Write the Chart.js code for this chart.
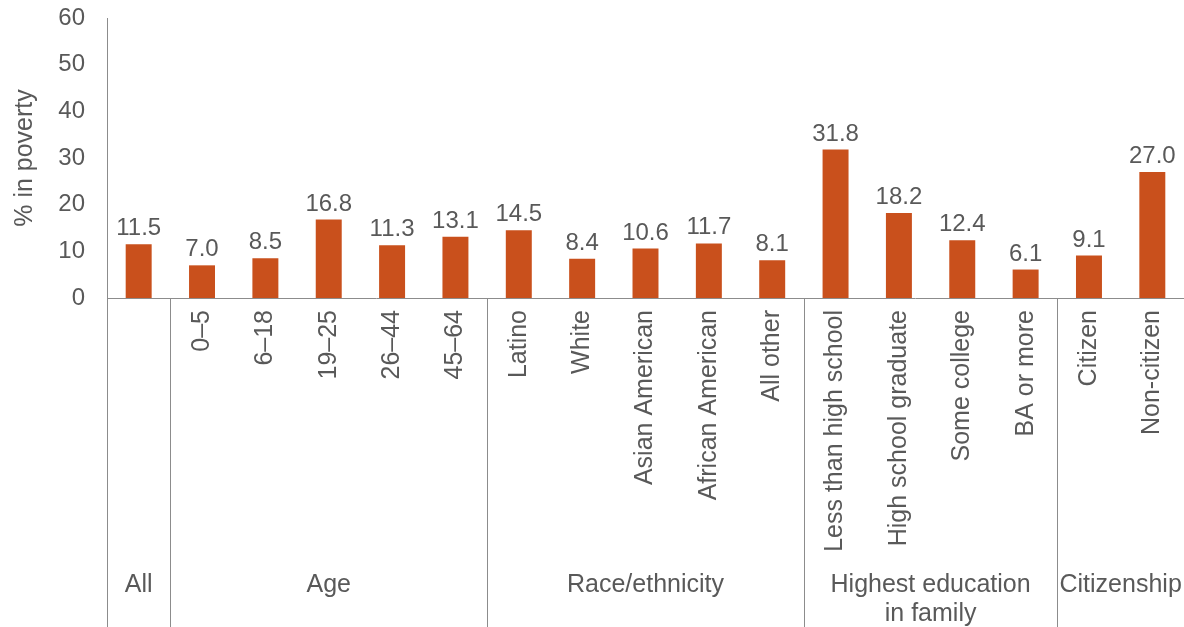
<!DOCTYPE html>
<html>
<head>
<meta charset="utf-8">
<script src="https://cdn.jsdelivr.net/npm/chart.js@4"></script>
<style>
  html, body { margin: 0; padding: 0; background: #fff; }
  #wrap { width: 1184px; height: 627px; position: relative; }
</style>
</head>
<body>
<div id="wrap"><canvas id="povertyChart" width="1184" height="627"></canvas></div>
<script>
// Poverty rate by population group
const categories = [
  'All',
  '0–5', '6–18', '19–25', '26–44', '45–64',
  'Latino', 'White', 'Asian American', 'African American', 'All other',
  'Less than high school', 'High school graduate', 'Some college', 'BA or more',
  'Citizen', 'Non-citizen'
];
const povertyRates = [11.5, 7.0, 8.5, 16.8, 11.3, 13.1, 14.5, 8.4, 10.6, 11.7, 8.1, 31.8, 18.2, 12.4, 6.1, 9.1, 27.0];
const groupNames = [['All'], ['Age'], ['Race/ethnicity'], ['Highest education', 'in family'], ['Citizenship']];
const groupSizes = [1, 5, 5, 4, 2];
const yTicks = [0, 10, 20, 30, 40, 50, 60];

const TEXT = '#595959';
const LINE = '#8c8c8c';
const FONT = 'Liberation Sans, Arial, sans-serif';

// index of the first bar in each group
const groupStarts = groupSizes.map((n, g) => groupSizes.slice(0, g).reduce((a, b) => a + b, 0));

// value labels, group separators and group names
const groupPlugin = {
  id: 'groupPlugin',
  afterDatasetsDraw(chart) {
    const ctx = chart.ctx;
    const meta = chart.getDatasetMeta(0);
    ctx.save();
    ctx.fillStyle = TEXT;
    ctx.font = '24px ' + FONT;
    ctx.textAlign = 'center';
    ctx.textBaseline = 'alphabetic';
    meta.data.forEach((bar, i) => {
      ctx.fillText(povertyRates[i].toFixed(1), bar.x, bar.y - 9);
    });
    ctx.restore();
  },
  afterDraw(chart) {
    const ctx = chart.ctx;
    const x = chart.scales.x;
    const area = chart.chartArea;
    const bottom = chart.height;
    const half = (x.getPixelForValue(1) - x.getPixelForValue(0)) / 2;
    ctx.save();
    ctx.strokeStyle = LINE;
    ctx.lineWidth = 1;
    const edges = [area.left];
    groupSizes.forEach((n, g) => {
      edges.push(x.getPixelForValue(groupStarts[g] + n - 1) + half);
    });
    edges.slice(0, -1).forEach(px => {
      const xx = Math.round(px) + 0.5;
      ctx.beginPath();
      ctx.moveTo(xx, area.bottom);
      ctx.lineTo(xx, bottom);
      ctx.stroke();
    });
    ctx.fillStyle = TEXT;
    ctx.font = '25px ' + FONT;
    ctx.textAlign = 'center';
    ctx.textBaseline = 'middle';
    groupNames.forEach((lines, g) => {
      const cx = (edges[g] + edges[g + 1]) / 2;
      lines.forEach((t, k) => ctx.fillText(t, cx, 585 + k * 29));
    });
    ctx.restore();
  }
};

new Chart(document.getElementById('povertyChart'), {
  type: 'bar',
  data: {
    labels: categories,
    datasets: [{
      data: povertyRates,
      backgroundColor: '#c9501c',
      barPercentage: 0.41,
      categoryPercentage: 1
    }]
  },
  options: {
    responsive: false,
    animation: false,
    layout: { padding: { top: 18, right: 0, left: 0, bottom: 0 } },
    plugins: { legend: { display: false }, tooltip: { enabled: false } },
    scales: {
      x: {
        offset: true,
        grid: { display: false, drawTicks: false },
        border: { display: true, color: LINE, width: 1 },
        ticks: {
          color: TEXT,
          font: { size: 25, family: FONT },
          minRotation: 90,
          maxRotation: 90,
          autoSkip: false,
          padding: 12,
          // single-bar groups are named only by the group label below
          callback: (v, i) => {
            const g = groupStarts.indexOf(i);
            return g >= 0 && groupSizes[g] === 1 ? '' : categories[i];
          }
        },
        afterFit(s) {
          s.height = 329;
          s.paddingLeft = 0;
          s.paddingRight = 0;
        }
      },
      y: {
        min: 0,
        max: 60,
        afterBuildTicks(s) { s.ticks = yTicks.map(v => ({ value: v })); },
        grid: { display: false, drawTicks: false },
        border: { display: true, color: LINE, width: 1 },
        ticks: { color: TEXT, font: { size: 24, family: FONT }, padding: 22 },
        title: {
          display: true,
          text: '% in poverty',
          color: TEXT,
          font: { size: 25, family: FONT },
          padding: { top: 10, bottom: 0 }
        },
        afterFit(s) {
          s.width = 107;
          s.paddingTop = 0;
          s.paddingBottom = 0;
        }
      }
    }
  },
  plugins: [groupPlugin]
});
</script>
</body>
</html>
